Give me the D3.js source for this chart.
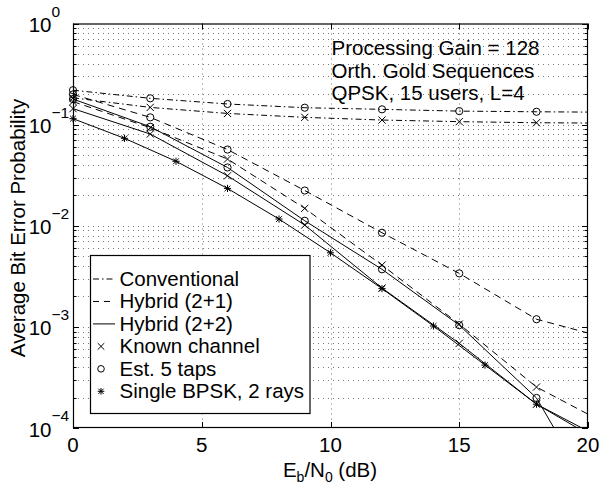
<!DOCTYPE html>
<html>
<head>
<meta charset="utf-8">
<script src="https://cdn.jsdelivr.net/npm/d3@7"></script>
<style>
  body { margin: 0; background: #fff; }
  svg { display: block; font-family: "Liberation Sans", Arial, sans-serif; }
</style>
</head>
<body>
<svg id="chart" width="600" height="487"></svg>
<script>

// Eb/N0 points for the multiuser curves (markers every 3 dB, line runs to 20)
var snrMulti = [0, 3, 6, 9, 12, 15, 18, 20]
// Eb/N0 points for the single user bound
var snrSingle = [0, 2, 4, 6, 8, 10, 12, 14, 16, 18, 20]

// values
var convEst = [0.219, 0.182, 0.160, 0.147, 0.1416, 0.136, 0.134, 0.133]
var convKnown = [0.184, 0.148, 0.129, 0.118, 0.111, 0.107, 0.1044, 0.1037]
var hyb21Est = [0.199, 0.118, 0.0567, 0.0223, 0.00853, 0.00338, 0.00119, 0.00087]
var hyb21Known = [0.169, 0.0932, 0.0457, 0.01486, 0.00408, 0.001066, 0.000254, 0.000137]
var hyb22Est = [0.179, 0.0953, 0.0377, 0.0112, 0.00371, 0.00104, 0.000198, 0.0000266]
var hyb22Known = [0.144, 0.0807, 0.0312, 0.01016, 0.00242, 0.000687, 0.000172, 0.000093]
var singleBpsk = [0.1145, 0.0732, 0.0434, 0.0234, 0.01165, 0.0054, 0.00239, 0.00102, 0.000419, 0.000172, 0.000087]

var xTicks = [0, 5, 10, 15, 20]
var yDecades = [-4, -3, -2, -1, 0]

var legendNames = ["Conventional", "Hybrid (2+1)", "Hybrid (2+2)", "Known channel", "Est. 5 taps", "Single BPSK, 2 rays"]
var noteLines = ["Processing Gain = 128", "Orth. Gold Sequences", "QPSK, 15 users, L=4"]

var dashDot = "6,3,1.5,3"
var dashed = "7,5"
var fontSize = 20.5

var series = [
    {x: snrMulti, y: convEst, dash: dashDot, marker: "o", every: 3},
    {x: snrMulti, y: convKnown, dash: dashDot, marker: "x", every: 3},
    {x: snrMulti, y: hyb21Est, dash: dashed, marker: "o", every: 3},
    {x: snrMulti, y: hyb21Known, dash: dashed, marker: "x", every: 3},
    {x: snrMulti, y: hyb22Est, dash: null, marker: "o", every: 3},
    {x: snrMulti, y: hyb22Known, dash: null, marker: "x", every: 3},
    {x: snrSingle, y: singleBpsk, dash: null, marker: "*", every: 2}
]

var dimensions = {
    width: 600,
    height: 487,
    margin: {
        top: 23.5,
        bottom: 59,
        right: 12,
        left: 73
    }
}
dimensions.boundedWidth = dimensions.width - dimensions.margin.left - dimensions.margin.right
dimensions.boundedHeight = dimensions.height - dimensions.margin.top - dimensions.margin.bottom

var svg = d3.select("#chart")

var xScale = d3.scaleLinear()
    .domain([0, 20])
    .range([dimensions.margin.left, dimensions.margin.left + dimensions.boundedWidth])

var yScale = d3.scaleLog()
    .domain([1e-4, 1])
    .range([dimensions.margin.top + dimensions.boundedHeight, dimensions.margin.top])

var x0 = xScale.range()[0], x1 = xScale.range()[1]
var yTop = yScale.range()[1], yBot = yScale.range()[0]

// all log ticks 1..9 per decade
var yMinor = []
for (var e = -4; e < 0; e++) {
    for (var k = 1; k <= 9; k++) yMinor.push(k * Math.pow(10, e))
}
yMinor.push(1)

svg.append("defs").append("clipPath")
    .attr("id", "plotclip")
    .append("rect")
    .attr("x", x0).attr("y", yTop)
    .attr("width", x1 - x0).attr("height", yBot - yTop)

//grid
var grid = svg.append("g")
    .attr("stroke", "#777")
    .attr("stroke-width", 1)
    .attr("stroke-dasharray", "1,4")

grid.selectAll(".hgrid")
    .data(yMinor.filter(d => d > 1e-4 && d < 1))
    .enter().append("line")
    .attr("x1", x0).attr("x2", x1)
    .attr("y1", d => Math.round(yScale(d)) + 0.5)
    .attr("y2", d => Math.round(yScale(d)) + 0.5)

grid.selectAll(".vgrid")
    .data(xTicks.filter(d => d > 0 && d < 20))
    .enter().append("line")
    .attr("x1", d => Math.round(xScale(d)) + 0.5)
    .attr("x2", d => Math.round(xScale(d)) + 0.5)
    .attr("y1", yTop).attr("y2", yBot)

//ticks, pointing inwards on all four sides
var ticks = svg.append("g").attr("stroke", "#000").attr("stroke-width", 1)

ticks.selectAll(".ytick")
    .data(yMinor)
    .enter().append("path")
    .attr("d", function (d) {
        var y = Math.round(yScale(d)) + 0.5
        var len = Number.isInteger(Math.log10(d)) ? 6 : 3.5
        return "M" + x0 + "," + y + "h" + len + "M" + x1 + "," + y + "h" + (-len)
    })

ticks.selectAll(".xtick")
    .data(xTicks)
    .enter().append("path")
    .attr("d", function (d) {
        var x = Math.round(xScale(d)) + 0.5
        return "M" + x + "," + yBot + "v-6M" + x + "," + yTop + "v6"
    })

//lines
var line = d3.line()
    .x(d => xScale(d[0]))
    .y(d => yScale(d[1]))

var plot = svg.append("g").attr("clip-path", "url(#plotclip)")

plot.selectAll(".curve")
    .data(series)
    .enter().append("path")
    .attr("d", s => line(s.x.map((v, i) => [v, s.y[i]])))
    .attr("fill", "none")
    .attr("stroke", "#000")
    .attr("stroke-width", 1)
    .attr("stroke-dasharray", s => s.dash)

function markerPath(type, r) {
    if (type == "x") return "M" + (-r) + "," + (-r) + "L" + r + "," + r + "M" + (-r) + "," + r + "L" + r + "," + (-r)
    if (type == "*") {
        var q = r * 0.8
        return "M0," + (-r) + "V" + r + "M" + (-r) + ",0H" + r +
            "M" + (-q) + "," + (-q) + "L" + q + "," + q + "M" + (-q) + "," + q + "L" + q + "," + (-q)
    }
    return d3.symbol().type(d3.symbolCircle).size(Math.PI * r * r)()
}

//markers, only for points inside the axes
var marks = svg.append("g")
series.forEach(function (s) {
    var pts = s.x.map((v, i) => [v, s.y[i]])
        .filter(p => p[0] % s.every == 0 && p[1] >= 1e-4 && p[0] <= 20)
    marks.selectAll(null)
        .data(pts)
        .enter().append("path")
        .attr("transform", p => "translate(" + xScale(p[0]) + "," + yScale(p[1]) + ")")
        .attr("d", markerPath(s.marker, 3.6))
        .attr("fill", "none")
        .attr("stroke", "#000")
        .attr("stroke-width", 1)
})

//axes box
svg.append("rect")
    .attr("x", x0 + 0.5).attr("y", yTop + 0.5)
    .attr("width", x1 - x0 - 1).attr("height", yBot - yTop - 1)
    .attr("fill", "none")
    .attr("stroke", "#000")
    .attr("stroke-width", 1.2)

//tick labels
svg.selectAll(".xlab")
    .data(xTicks)
    .enter().append("text")
    .attr("x", d => xScale(d))
    .attr("y", 451.5)
    .attr("text-anchor", "middle")
    .attr("font-size", fontSize)
    .text(d => d)

var ylab = svg.selectAll(".ylab")
    .data(yDecades)
    .enter().append("g")
ylab.append("text")
    .attr("x", 51.5)
    .attr("y", d => yScale(Math.pow(10, d)) + 8.5)
    .attr("text-anchor", "end")
    .attr("font-size", fontSize)
    .text("10")
ylab.append("text")
    .attr("x", 51.5)
    .attr("y", d => yScale(Math.pow(10, d)) - 7)
    .attr("font-size", 15.5)
    .text(d => d < 0 ? "\u2212" + (-d) : d)

//axis titles
var xt = svg.append("text")
    .attr("x", 330)
    .attr("y", 477)
    .attr("text-anchor", "middle")
    .attr("font-size", fontSize)
xt.append("tspan").text("E")
xt.append("tspan").attr("font-size", 14).attr("dy", 5).text("b")
xt.append("tspan").attr("dy", -5).text("/N")
xt.append("tspan").attr("font-size", 14).attr("dy", 5).text("0")
xt.append("tspan").attr("dy", -5).text(" (dB)")

svg.append("text")
    .attr("transform", "translate(25," + 228 + ") rotate(-90)")
    .attr("text-anchor", "middle")
    .attr("font-size", fontSize)
    .text("Average Bit Error Probability")

//annotation
svg.selectAll(".note")
    .data(noteLines)
    .enter().append("text")
    .attr("x", 331.5)
    .attr("y", (d, i) => 55 + i * 22.5)
    .attr("font-size", fontSize)
    .text(d => d)

//legend
var legend = svg.append("g")
legend.append("rect")
    .attr("x", 90.5).attr("y", 255.5)
    .attr("width", 219.5).attr("height", 158)
    .attr("fill", "#fff")
    .attr("stroke", "#000")
    .attr("stroke-width", 1.2)

var legendDash = [dashDot, "6,5", null]
var legendMark = ["x", "o", "*"]

legendNames.forEach(function (name, i) {
    var base = 286 + i * 22.46
    var cy = base - 7
    if (i < 3) {
        legend.append("line")
            .attr("x1", 93).attr("x2", 115)
            .attr("y1", cy).attr("y2", cy)
            .attr("stroke", "#000")
            .attr("stroke-width", 1)
            .attr("stroke-dasharray", legendDash[i])
    } else {
        legend.append("path")
            .attr("transform", "translate(101," + cy + ")")
            .attr("d", markerPath(legendMark[i - 3], 3.3))
            .attr("fill", "none")
            .attr("stroke", "#000")
            .attr("stroke-width", 1)
    }
    legend.append("text")
        .attr("x", 119.5)
        .attr("y", base)
        .attr("font-size", fontSize)
        .text(name)
})

</script>
</body>
</html>
